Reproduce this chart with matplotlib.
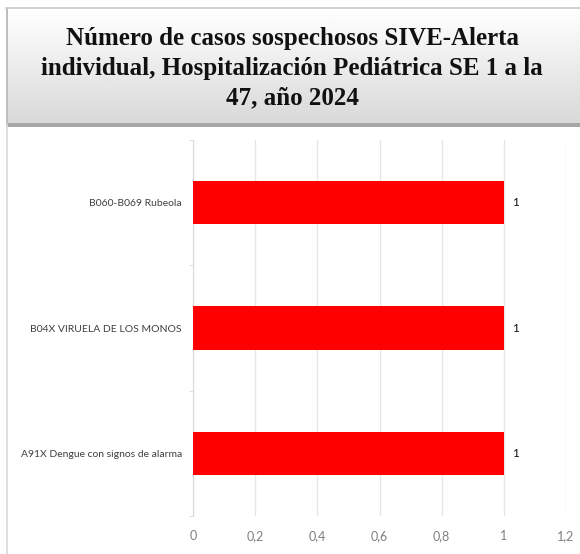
import numpy as np
import matplotlib.pyplot as plt
from matplotlib.patches import Rectangle

categorias = ["A91X Dengue con signos de alarma",
              "B04X VIRUELA DE LOS MONOS",
              "B060-B069 Rubeola"]
casos = [1, 1, 1]
ticks_x = [0, 0.2, 0.4, 0.6, 0.8, 1, 1.2]
ticks_txt = ["0", "0,2", "0,4", "0,6", "0,8", "1", "1,2"]

titulo = ("Número de casos sospechosos SIVE-Alerta\n"
          "individual, Hospitalización Pediátrica SE 1 a la\n"
          "47, año 2024")

W, H = 580, 554
fig = plt.figure(figsize=(W / 100, H / 100), dpi=100)
fig.patch.set_facecolor("white")

narrow = ["Lato", "DejaVu Sans"]

# marco izquierdo del grafico
fig.add_artist(plt.Line2D([7 / W, 7 / W], [0, 1 - 125 / H], color="#d9d9d9", lw=1.2))

# caja del titulo con degradado
tax = fig.add_axes([6 / W, 1 - 123 / H, 1 - 6 / W, 115 / H])
grad = np.linspace(1.0, 0.85, 100).reshape(-1, 1)
tax.imshow(grad, cmap="gray", vmin=0, vmax=1, aspect="auto", extent=[0, 1, 0, 1])
tax.set_xlim(0, 1)
tax.set_ylim(0, 1)
tax.axis("off")
fig.add_artist(Rectangle((8 / W, 1 - 127 / H), 1 - 8 / W, 4 / H,
                         transform=fig.transFigure, color="#a6a6a6", lw=0))
fig.add_artist(Rectangle((6 / W, 1 - 127 / H), 2 / W, 119 / H,
                         transform=fig.transFigure, color="#bfbfbf", lw=0))
fig.add_artist(plt.Line2D([6 / W, 1], [1 - 8 / H, 1 - 8 / H], color="#c8c8c8", lw=1.2))
fig.text(292 / W, 1 - 68 / H, titulo, ha="center", va="center",
         fontsize=18, fontweight="bold", family="Liberation Serif",
         linespacing=1.38, color="#111111")

ax = fig.add_axes([193 / W, 1 - 516 / H, (566 - 193) / W, (516 - 140) / H])
y = np.arange(len(categorias))
ax.barh(y, casos, height=0.345, color="#ff0000", zorder=3)
for yi, v in zip(y, casos):
    ax.text(v + 0.025, yi, str(v), va="center", ha="left", fontsize=8.5,
            family=narrow, color="#111111")

ax.set_xlim(0, 1.2)
ax.set_ylim(-0.5, len(categorias) - 0.5)
ax.set_xticks(ticks_x)
ax.set_xticklabels(ticks_txt, family=narrow, fontsize=9, color="#7f7f7f")
ax.set_yticks(y)
ax.set_yticklabels(categorias, family=narrow, fontsize=7.5, color="#404040")
ax.set_yticks(np.arange(len(categorias) + 1) - 0.5, minor=True)
ax.tick_params(axis="y", which="major", length=0, pad=8)
ax.tick_params(axis="y", which="minor", length=3, color="#d9d9d9")
ax.tick_params(axis="x", length=0, pad=10)
ax.grid(axis="x", color="#e6e6e6", lw=1, zorder=0)
for s in ["top", "right", "bottom"]:
    ax.spines[s].set_visible(False)
ax.spines["left"].set_color("#d9d9d9")

fig.savefig("out.png", dpi=100)
